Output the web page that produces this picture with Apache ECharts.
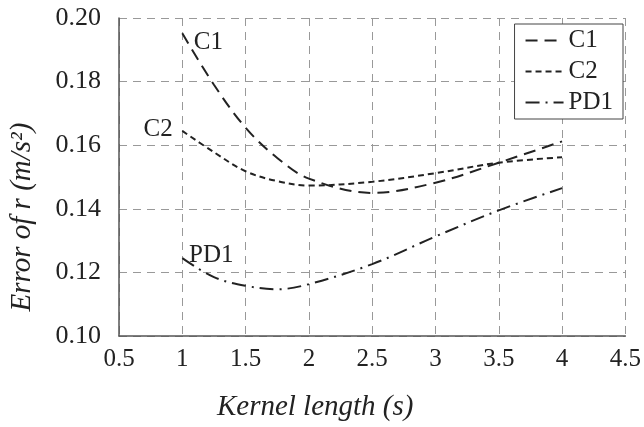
<!DOCTYPE html>
<html>
<head>
<meta charset="utf-8">
<script src="https://cdn.jsdelivr.net/npm/echarts@6/dist/echarts.min.js"></script>
<style>
  html, body { margin: 0; padding: 0; background: #fff; }
  #chart { width: 644px; height: 427px; }
</style>
</head>
<body>
<div id="chart"></div>
<script>
// kernel length (s)
const kernelLength = [1, 1.25, 1.5, 1.75, 2, 2.5, 3, 3.5, 4];
// error of r (m/s^2)
const c1 = [0.1952, 0.1790, 0.1655, 0.1560, 0.1495, 0.1450, 0.1482, 0.1545, 0.1612];
const c2 = [0.1645, 0.1578, 0.1518, 0.1487, 0.1473, 0.1485, 0.1512, 0.1545, 0.1562];
const pd1 = [0.1245, 0.1185, 0.1158, 0.1147, 0.1163, 0.1226, 0.1313, 0.1395, 0.1465];
const seriesNames = ['C1', 'C2', 'PD1'];

const serif = "'Liberation Serif', 'Times New Roman', serif";
const ink = '#222';

function pairs(ys, firstLabel) {
    return ys.map((y, i) => {
        const item = { value: [kernelLength[i], y] };
        if (i === 0) item.label = firstLabel;
        return item;
    });
}

function lineSeries(name, ys, dash, firstLabel) {
    return {
        name: name,
        type: 'line',
        smooth: 0.35,
        symbol: 'circle',
        symbolSize: 1,
        showSymbol: true,
        showAllSymbol: true,
        label: { show: false },
        lineStyle: { color: ink, width: 2, type: dash },
        itemStyle: { color: 'rgba(0,0,0,0)' },
        data: pairs(ys, firstLabel)
    };
}

function tag(text, position, offset) {
    return { show: true, formatter: text, position: position, offset: offset,
             fontFamily: serif, fontSize: 25, color: ink };
}

const chart = echarts.init(document.getElementById('chart'));
chart.setOption({
    backgroundColor: '#fff',
    animation: false,
    grid: { left: 118, right: 14, top: 18, bottom: 90 },
    legend: {
        right: 21, top: 24,
        orient: 'vertical',
        backgroundColor: '#fff',
        borderColor: '#444',
        borderWidth: 1,
        padding: [4, 10, 4, 10],
        itemGap: 6,
        itemWidth: 38,
        itemHeight: 25,
        itemStyle: { opacity: 0 },
        textStyle: { fontFamily: serif, fontSize: 25, color: ink },
        data: seriesNames
    },
    xAxis: {
        type: 'value',
        min: 0.5, max: 4.5, interval: 0.5,
        name: 'Kernel length (s)',
        nameLocation: 'middle',
        nameGap: 57,
        nameTextStyle: { fontFamily: serif, fontStyle: 'italic', fontSize: 29, color: ink,
                         padding: [0, 114, 0, 0] },
        axisLine: { lineStyle: { color: '#555', width: 1.5 } },
        axisTick: { show: false },
        axisLabel: { fontFamily: serif, fontSize: 25, color: ink, margin: 11 },
        splitLine: { lineStyle: { color: '#999', type: [8, 6], width: 1 } }
    },
    yAxis: {
        type: 'value',
        min: 0.10, max: 0.20, interval: 0.02,
        name: 'Error of r (m/s²)',
        nameLocation: 'middle',
        nameGap: 82,
        nameTextStyle: { fontFamily: serif, fontStyle: 'italic', fontSize: 29, color: ink,
                         padding: [0, 80, 0, 0] },
        axisLine: { show: true, lineStyle: { color: '#555', width: 1.5 } },
        axisTick: { show: false },
        axisLabel: {
            fontFamily: serif, fontSize: 26, color: ink, margin: 18,
            formatter: v => v.toFixed(2)
        },
        splitLine: { lineStyle: { color: '#999', type: [8, 6], width: 1 } }
    },
    series: [
        lineSeries('C1', c1, [12, 7], tag('C1', 'right', [6, 9])),
        lineSeries('C2', c2, [6, 4], tag('C2', 'left', [-4, -1])),
        lineSeries('PD1', pd1, [14, 6, 2, 6], tag('PD1', 'top', [29, 15]))
    ]
});
</script>
</body>
</html>
